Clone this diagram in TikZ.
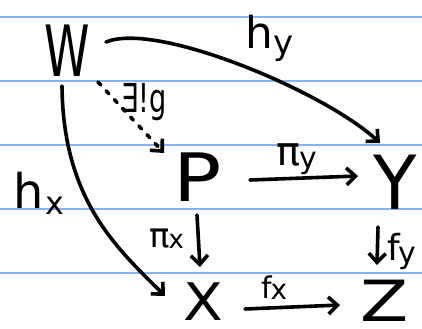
\documentclass[tikz,border=0pt]{standalone}
\usepackage{fontspec}
\setmainfont{DejaVu Sans}
\usetikzlibrary{arrows.meta}
\definecolor{ruled}{RGB}{128,182,246}
\newcommand\BigLetter[3]{\fontsize{#1}{#1}\selectfont\scalebox{#2}[1]{#3}}
\newcommand\LB[6]{{\fontsize{#1}{#1}\selectfont #2}\kern#6\raisebox{-#5}{\fontsize{#3}{#3}\selectfont #4}}
\tikzset{
  obj/.style={inner sep=0pt},
  lab/.style={inner sep=0pt, anchor=base west},
  pen/.style={line width=3.6bp, line cap=round, line join=round, -{Straight Barb[length=9bp,width=17bp,line width=3.6bp]}},
  rule/.style={ruled, line width=1.6bp}
}
\begin{document}
\begin{tikzpicture}[x=1bp,y=-1bp]
\useasboundingbox (0,0) rectangle (422,329);
\fill[white] (0,0) rectangle (422,329);
\foreach \yy in {17,81,145,209,273} \draw[rule] (0,\yy) -- (422,\yy);
\node[obj] (W) at (67,51) {\BigLetter{71}{0.65}{W}};
\node[obj] (P) at (198,177) {\BigLetter{67}{1.2}{P}};
\node[obj] (Y) at (395,182) {\BigLetter{75}{0.95}{Y}};
\node[obj] (X) at (203,302) {\BigLetter{52}{1.12}{X}};
\node[obj] (Z) at (385,301) {\BigLetter{57}{1.24}{Z}};
\draw[pen] ([shift={(39,-9)}]W.center) .. controls ([shift={(90,-30)}]W.center) and ([shift={(-70,-90)}]Y.center) .. ([shift={(-15,-39)}]Y.center);
\draw[pen] ([shift={(-5,35)}]W.center) .. controls ([shift={(-4,150)}]W.center) and ([shift={(-85,-53)}]X.center) .. ([shift={(-38,-6)}]X.center);
\draw[pen, dash pattern=on 4bp off 8bp] ([shift={(31,31)}]W.center) -- ([shift={(-34,-24)}]P.center);
\draw[pen] ([shift={(52,3)}]P.center) -- ([shift={(-37,-6)}]Y.center);
\draw[pen] ([shift={(-1,38)}]P.center) -- ([shift={(-3,-35)}]X.center);
\draw[pen] ([shift={(42,7)}]X.center) -- ([shift={(-45,4)}]Z.center);
\draw[pen] ([shift={(-17,45)}]Y.center) -- ([shift={(-8,-36)}]Z.center);
\node[lab] (hy) at (245,48) {\LB{44}{h}{34}{y}{6bp}{1bp}};
\node[lab] (g) at (121,112) {\fontsize{40}{40}\selectfont\scalebox{0.68}[1]{∃!g}};
\node[lab] (piy) at (276,165) {\LB{40}{π}{30}{y}{3bp}{-1bp}};
\node[lab] (hx) at (13,208) {\LB{48}{h}{32}{x}{6bp}{2bp}};
\node[lab] (pix) at (149,247) {\LB{34}{π}{26}{x}{1bp}{-1bp}};
\node[lab] (fx) at (261,298) {\LB{30}{f}{28}{x}{1bp}{-1bp}};
\node[lab] (fy) at (387,260) {\LB{36}{f}{30}{y}{3bp}{-1bp}};
\end{tikzpicture}
\end{document}
